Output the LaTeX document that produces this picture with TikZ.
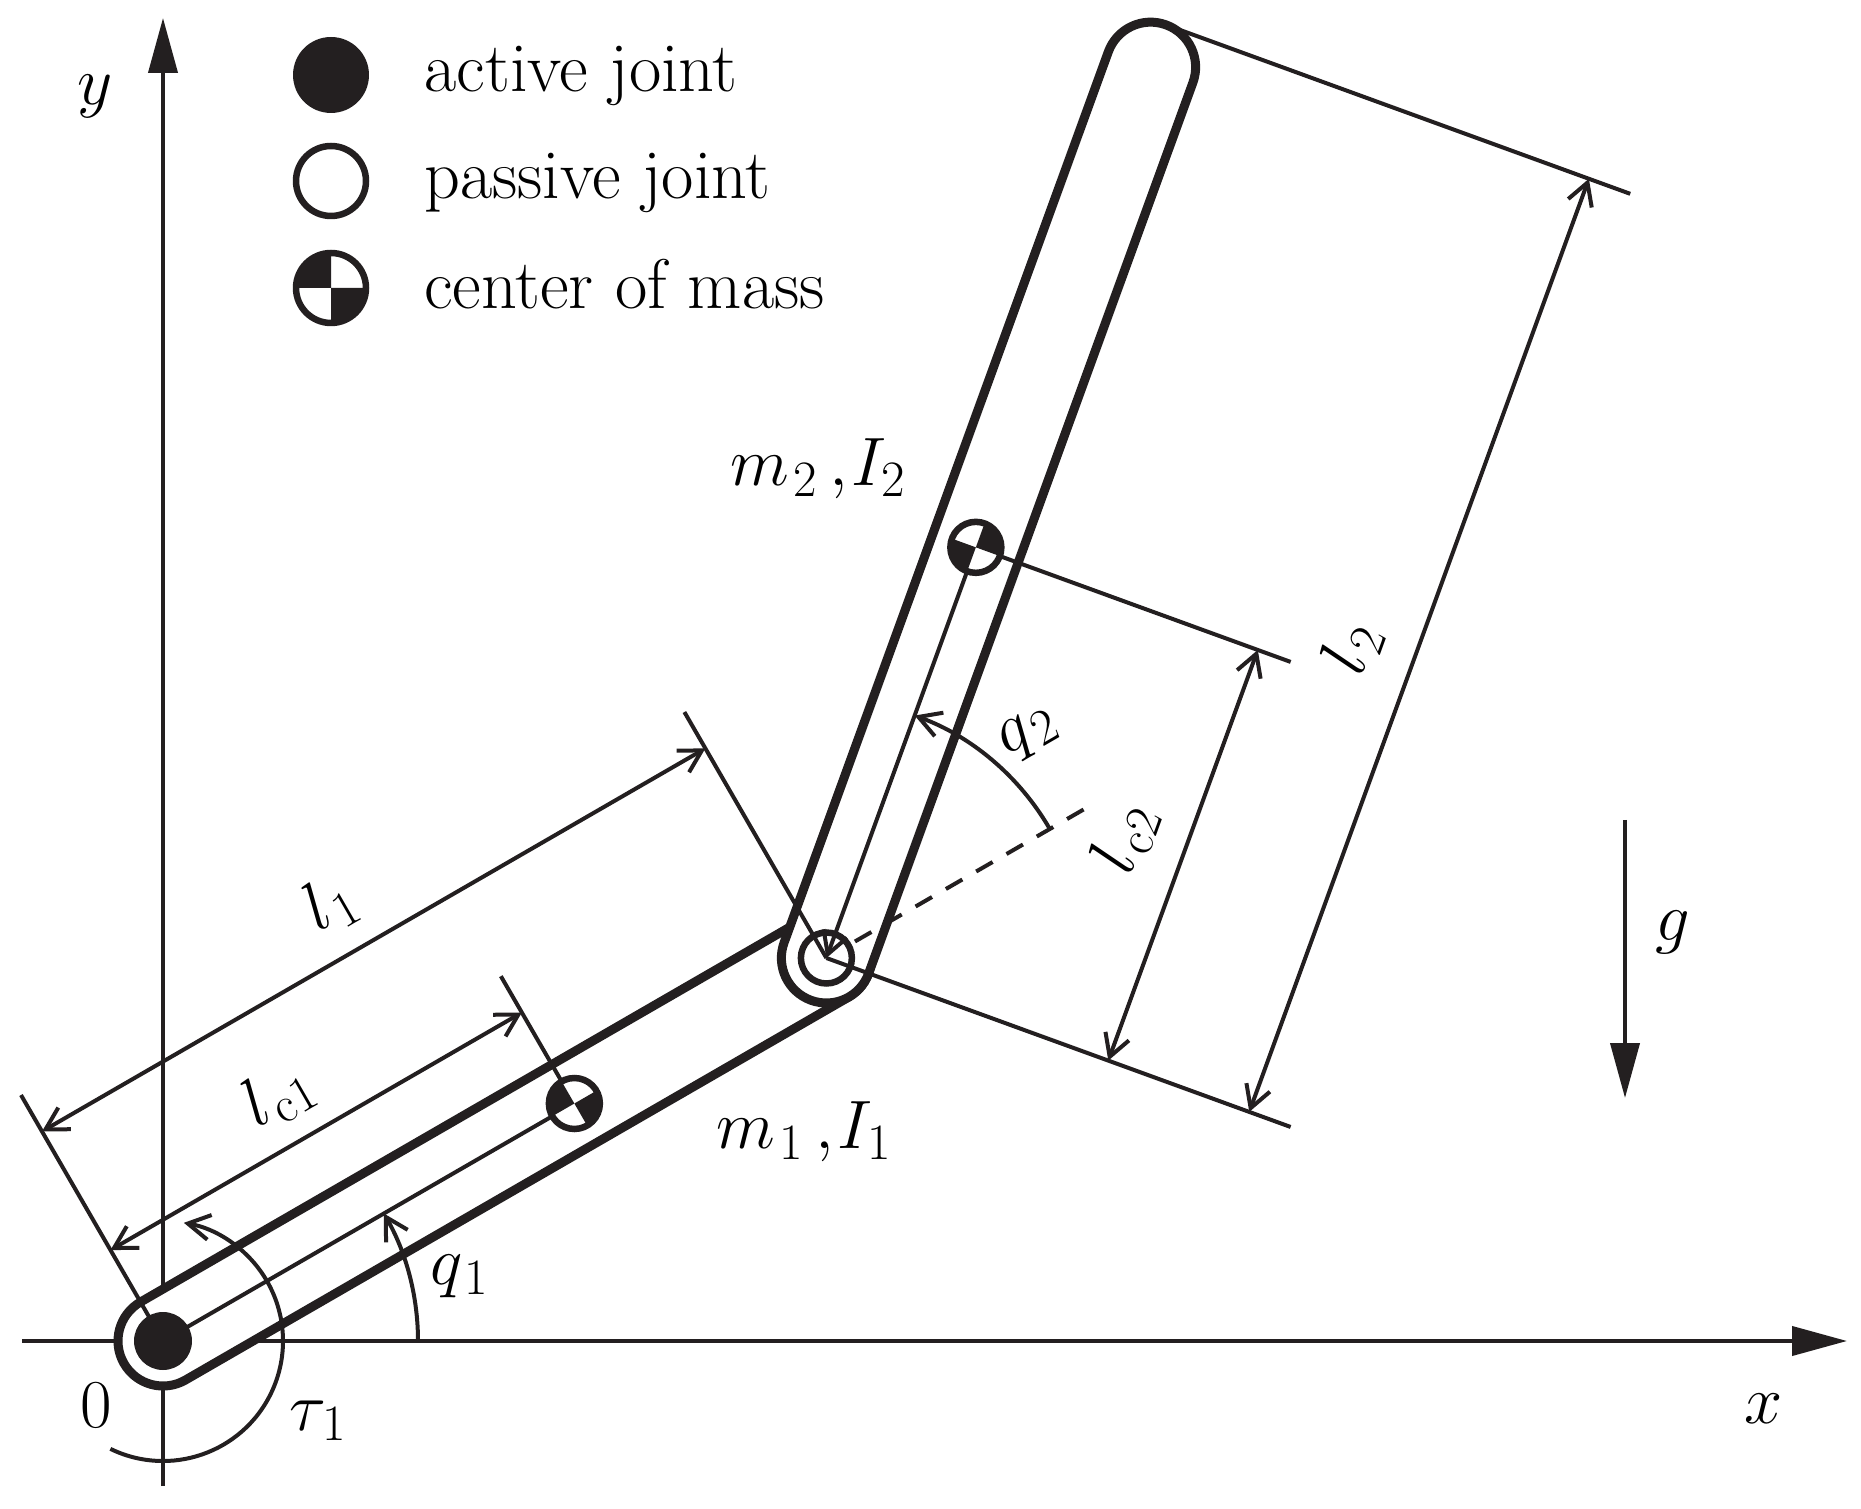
\documentclass[tikz,border=0pt]{standalone}
\usepackage{fix-cm}
\usepackage{tikz}
\usetikzlibrary{arrows.meta,calc}
\DeclareMathSizes{39}{39}{29}{22}
\definecolor{ink}{HTML}{231F20}

\begin{document}
\begin{tikzpicture}[x=0.02cm, y=0.02cm, >={Straight Barb[length=4.4mm,width=5mm]}, line cap=butt]
\tikzstyle{every node}=[inner sep=0pt, font=\fontsize{39}{47}\selectfont]
\tikzstyle{legendtext}=[anchor=base west, font=\fontsize{40}{48}\selectfont]
\tikzstyle{thinline}=[draw=ink, line width=0.08cm]
\tikzstyle{linkbody}=[draw=ink, fill=white, line width=0.18cm]
\tikzstyle{axisline}=[draw=ink, line width=0.08cm, -{Triangle[length=1.1cm,width=0.58cm]}, ink]
\tikzstyle{active}=[circle, fill=ink, minimum size=1.16cm]
\tikzstyle{passive}=[circle, draw=ink, fill=white, line width=0.13cm]
\tikzstyle{mass}=[circle, draw=ink, fill=white, line width=0.13cm, minimum size=1.02cm]

\useasboundingbox (0,0) rectangle (1861,1508);

\coordinate (J1) at (163,167);
\coordinate (J2) at ($(J1)+(30:766)$);
\coordinate (C1) at ($(J1)+(30:475)$);
\coordinate (C2) at ($(J2)+(70:437)$);
\coordinate (E2) at ($(J2)+(70:948)$);
\coordinate (T2) at ($(J2)+(70:993)$);

% axes
\coordinate (xa) at (22,167);
\coordinate (xb) at (1847,167);
\coordinate (ya) at (163,22);
\coordinate (yb) at (163,1490);
\draw[axisline] (xa) -- (xb);
\draw[axisline] (ya) -- (yb);

% links
\draw[linkbody] ($(J1)+(120:45)$) -- ($(J2)+(120:45)$) arc (120:-60:45) -- ($(J1)+(-60:45)$) arc (-60:-240:45) -- cycle;
\draw[linkbody] ($(J2)+(160:45)$) -- ($(E2)+(160:45)$) arc (160:-20:45) -- ($(J2)+(-20:45)$) arc (-20:-200:45) -- cycle;

\node[active] (actJ1) at (J1) {};
\node[passive, minimum size=1.02cm] (pasJ2) at (J2) {};

% center lines
\draw[thinline] (J1) -- (C1);
\draw[thinline,->] (C2) -- (J2);

% dimensions of link 1
\coordinate (e1a) at ($(J1)+(120:284)$);
\coordinate (e1b) at ($(J2)+(120:284)$);
\coordinate (e1c) at ($(C1)+(120:147)$);
\coordinate (d1a) at ($(J1)+(120:242)$);
\coordinate (d1b) at ($(J2)+(120:242)$);
\coordinate (d1c) at ($(J1)+(120:105)$);
\coordinate (d1d) at ($(C1)+(120:105)$);
\draw[thinline] (J1) -- (e1a);
\draw[thinline] (J2) -- (e1b);
\draw[thinline] (C1) -- (e1c);
\draw[thinline,<->] (d1a) -- (d1b);
\draw[thinline,<->] (d1c) -- (d1d);

% dimensions of link 2
\coordinate (e2a) at ($(J2)+(-20:494)$);
\coordinate (e2b) at ($(T2)+(-20:494)$);
\coordinate (e2c) at ($(C2)+(-20:335)$);
\coordinate (d2a) at ($(J2)+(-20:450)$);
\coordinate (d2b) at ($(T2)+(-20:450)$);
\coordinate (d2c) at ($(J2)+(-20:300)$);
\coordinate (d2d) at ($(C2)+(-20:300)$);
\draw[thinline] (J2) -- (e2a);
\draw[thinline] (T2) -- (e2b);
\draw[thinline] (C2) -- (e2c);
\draw[thinline,<->] (d2a) -- (d2b);
\draw[thinline,<->] (d2c) -- (d2d);

% angles
\coordinate (qa) at ($(J1)+(0:255)$);
\coordinate (qb) at ($(J2)+(30:258)$);
\coordinate (ta) at ($(J1)+(-116:120)$);
\coordinate (da) at ($(J2)+(30:33)$);
\coordinate (db) at ($(J2)+(30:298)$);
\draw[thinline,->] (qa) arc (0:30:255);
\draw[thinline,->] (qb) arc (30:70:258);
\draw[thinline,->] (ta) arc (-116:80:120);
\draw[thinline,dash pattern=on 0.38cm off 0.32cm] (da) -- (db);

% centers of mass
\node[mass] (massA) at (C1) {};
\fill[ink] (C1) -- ++(120:26) arc (120:210:26) -- cycle;
\fill[ink] (C1) -- ++(-60:26) arc (-60:30:26) -- cycle;
\node[mass] (massB) at (C2) {};
\fill[ink] (C2) -- ++(160:26) arc (160:250:26) -- cycle;
\fill[ink] (C2) -- ++(-20:26) arc (-20:70:26) -- cycle;

% gravity
\coordinate (ga) at (1625,688);
\coordinate (gb) at (1625,410);
\draw[axisline] (ga) -- (gb);

% legend
\node[circle, fill=ink, minimum size=1.52cm] (legA) at (331,1433) {};
\node[passive, minimum size=1.4cm] (legP) at (331,1327) {};
\node[mass, minimum size=1.4cm] (legM) at (331,1220) {};
\fill[ink] (legM.center) -- ++(90:35) arc (90:180:35) -- cycle;
\fill[ink] (legM.center) -- ++(-90:35) arc (-90:0:35) -- cycle;
\node[legendtext] (txtA) at (424,1416) {active joint};
\node[legendtext] (txtP) at (424,1309) {passive joint};
\node[legendtext] (txtM) at (424,1199) {center of mass};

% labels
\node (lbly) at (95,1412) {$y$};
\node (lblx) at (1764,99) {$x$};
\node (lbl0) at (96,103) {$0$};
\node (lbltau) at (318,87) {$\tau_{\mkern1.5mu 1}$};
\node (lblq1) at (460,232) {$q_{\mkern1.5mu 1}$};
\node[rotate=30] (lblq2) at (1029,774) {$q_{\mkern1.5mu 2}$};
\node[rotate=30] (lbll1) at (330,604) {$l_{\mkern1.5mu 1}$};
\node[rotate=30] (lbllc1) at (278,413) {$l_{\mkern1.5mu\mathrm{c}1}$};
\node[rotate=70] (lbllc2) at (1125,670) {$l_{\mkern1.5mu\mathrm{c}2}$};
\node[rotate=70] (lbll2) at (1352,860) {$l_{\mkern1.5mu 2}$};
\node (lblm1) at (804,376) {$m_{\mkern1.5mu 1}\,{,}\mkern1mu I_1$};
\node (lblm2) at (818,1039) {$m_{\mkern1.5mu 2}\,{,}\mkern1mu I_2$};
\node (lblg) at (1673,576) {$g$};
\end{tikzpicture}
\end{document}
